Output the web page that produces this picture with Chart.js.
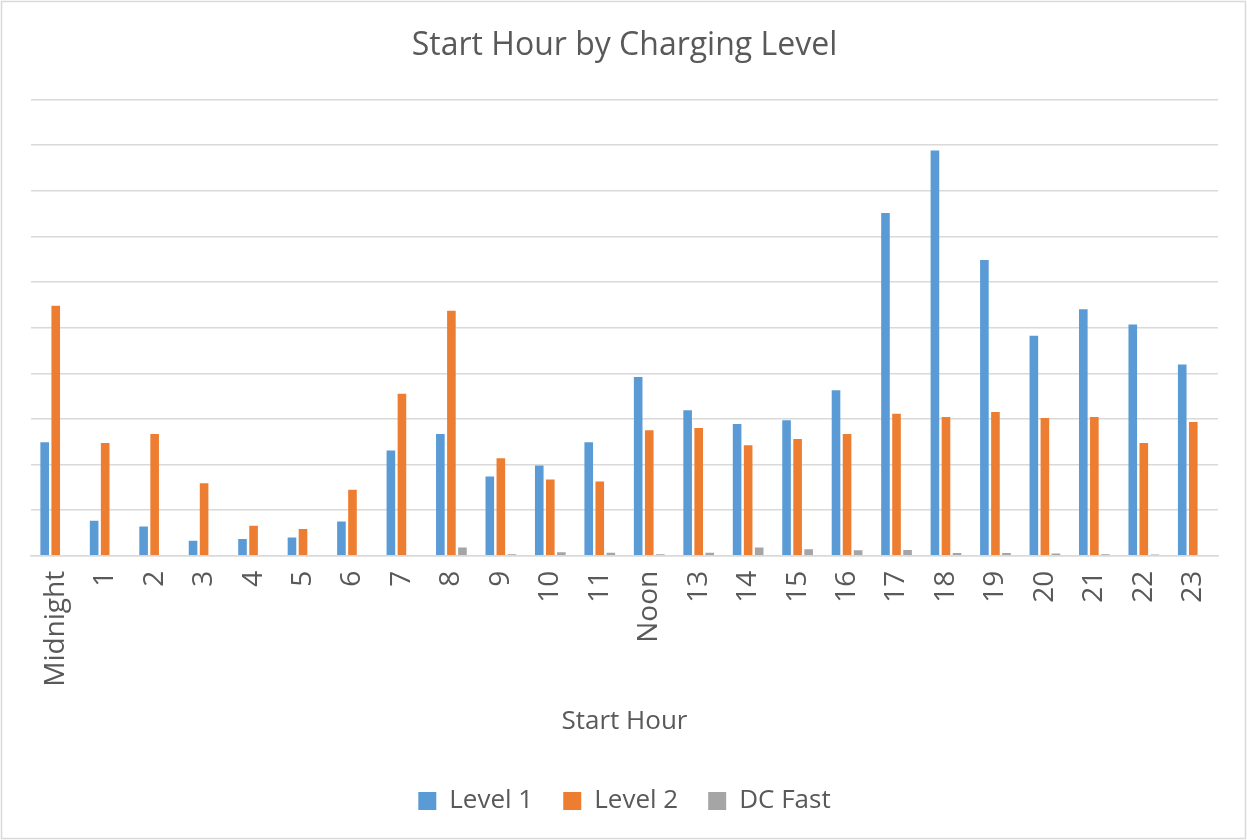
<!DOCTYPE html>
<html><head><meta charset="utf-8">
<script src="https://cdn.jsdelivr.net/npm/chart.js@4/dist/chart.umd.min.js"></script>
<style>html,body{margin:0;padding:0;background:#fff}canvas{display:block}</style>
</head><body>
<canvas id="c" width="1247" height="840"></canvas>
<script>
const categories = ["Midnight","1","2","3","4","5","6","7","8","9","10","11","Noon","13","14","15","16","17","18","19","20","21","22","23"];
const level1 = [2.49,0.77,0.64,0.33,0.37,0.40,0.75,2.31,2.67,1.74,1.98,2.49,3.92,3.19,2.89,2.97,3.63,7.51,8.88,6.48,4.82,5.40,5.07,4.19];
const level2 = [5.48,2.47,2.67,1.59,0.66,0.59,1.45,3.55,5.37,2.14,1.67,1.63,2.75,2.80,2.42,2.56,2.67,3.11,3.04,3.15,3.02,3.04,2.47,2.93];
const dcFast = [0,0,0,0,0,0,0,0,0.18,0.035,0.08,0.065,0.035,0.07,0.18,0.145,0.12,0.125,0.06,0.06,0.05,0.035,0.03,0];
const seriesNames = ["Level 1","Level 2","DC Fast"];
const colors = ["#5b9bd5","#ed7d31","#a5a5a5"];
const FONT = "'Open Sans', 'Liberation Sans', sans-serif";
const TXT = "#595959";

const frame = {
  id:'frame',
  beforeDraw(chart){
    const ctx = chart.ctx;
    ctx.save();
    ctx.fillStyle = '#fff';
    ctx.fillRect(0,0,chart.width,chart.height);
    ctx.strokeStyle = '#d9d9d9';
    ctx.lineWidth = 1.5;
    ctx.strokeRect(1.5,1.5,chart.width-3,chart.height-3);
    ctx.restore();
  }
};

new Chart(document.getElementById('c'), {
  type:'bar',
  data:{
    labels: categories,
    datasets: [level1, level2, dcFast].map((d,i)=>({
      label: seriesNames[i], data: d, backgroundColor: colors[i],
      borderWidth: 0,
      categoryPercentage: 0.67, barPercentage: 0.78
    }))
  },
  options:{
    responsive:false, animation:false,
    layout:{padding:{left:31,right:29,top:27,bottom:16}},
    plugins:{
      title:{display:true, text:'Start Hour by Charging Level', color:TXT,
        font:{family:FONT, size:32, weight:'normal'}, padding:{top:0,bottom:34}},
      legend:{position:'bottom', labels:{color:TXT, font:{family:FONT,size:26},
        boxWidth:18, boxHeight:18, padding:30}},
      tooltip:{enabled:false}
    },
    scales:{
      x:{
        grid:{display:false, drawTicks:false},
        border:{display:true, color:'#d9d9d9', width:1.5},
        ticks:{color:TXT, font:{family:FONT,size:28}, minRotation:90, maxRotation:90, padding:15, autoSkip:false},
        title:{display:true, text:'Start Hour', color:TXT, font:{family:FONT,size:26}, padding:{top:4,bottom:21}}
      },
      y:{
        min:0, max:10,
        ticks:{display:false, stepSize:1},
        grid:{color:'#d9d9d9', lineWidth:1.5, drawTicks:false},
        border:{display:false}
      }
    }
  },
  plugins:[frame]
});
</script>
</body></html>
